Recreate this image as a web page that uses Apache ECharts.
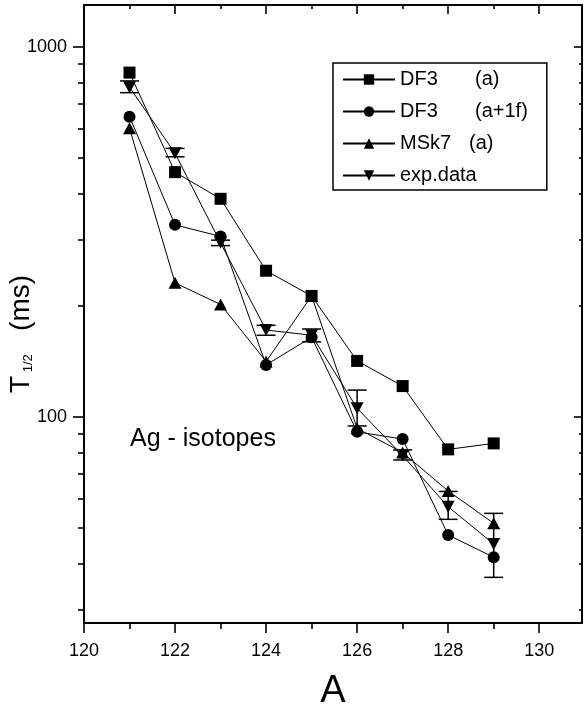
<!DOCTYPE html>
<html>
<head>
<meta charset="utf-8">
<script src="https://cdn.jsdelivr.net/npm/echarts@6/dist/echarts.min.js"></script>
<style>html,body{margin:0;padding:0;background:#fff;}#c{width:584px;height:706px;}</style>
</head>
<body>
<div id="c"></div>
<script>
// ---- data ----
const massNumbers = [121, 122, 123, 124, 125, 126, 127, 128, 129];
const df3a      = [851, 458, 388, 248, 212, 141.5, 121, 81.6, 84.7];
const df3a1f    = [647, 330, 307, 138, 164, 91, 87, 47.9, 41.7];
const msk7a     = [602, 230, 201, 141, 212, 93, 80, 63, 51.5];
const expData   = [777, 515, 295, 171.5, 166, 105.4, 78.5, 57.1, 45.3];
const expLow    = [751, 504, 290, 166, 159.3, 94.4, 76.4, 52.8, 36.8];
const expHigh   = [808, 531, 300, 176.6, 172.6, 118, 81.3, 62.8, 54.8];
const xMajorTicks = [120, 122, 124, 126, 128, 130];
const xMinorTicks = [121, 123, 125, 127, 129];
const yMajorTicks = [100, 1000];
const yMinorTicks = [30, 40, 50, 60, 70, 80, 90, 200, 300, 400, 500, 600, 700, 800, 900];
const seriesNames = ['DF3 (a)', 'DF3 (a+1f)', 'MSk7 (a)', 'exp.data'];

const FONT = "'Liberation Sans', Arial, Helvetica, sans-serif";
const X_MIN = 120, X_MAX = 130.94, Y_MIN = 27.7, Y_MAX = 1296;

function pairs(vals) { return massNumbers.map((a, i) => [a, vals[i]]); }

function xAxisDef(pos, ticks, len, inside, withLabels, withLine) {
  return {
    type: 'value', position: pos, min: X_MIN, max: X_MAX,
    splitLine: { show: false },
    axisLine: { show: withLine, onZero: false, lineStyle: { color: '#000', width: 2 } },
    axisTick: { show: true, inside: inside, length: len, customValues: ticks, lineStyle: { color: '#000', width: 1.6 } },
    axisLabel: withLabels ? { show: true, customValues: xMajorTicks, margin: 19, fontSize: 18, color: '#000', fontFamily: FONT } : { show: false },
    name: (withLabels && pos === 'bottom') ? 'A' : '',
    nameLocation: 'middle', nameGap: 50, nameMoveOverlap: false,
    nameTextStyle: { fontSize: 38, color: '#000', fontFamily: FONT }
  };
}
function yAxisDef(pos, ticks, len, inside, withLabels, withLine) {
  return {
    type: 'log', logBase: 10, position: pos, min: Y_MIN, max: Y_MAX,
    splitLine: { show: false }, minorTick: { show: false },
    axisLine: { show: withLine, onZero: false, lineStyle: { color: '#000', width: 2 } },
    axisTick: { show: true, inside: inside, length: len, customValues: ticks, lineStyle: { color: '#000', width: 1.6 } },
    axisLabel: withLabels ? { show: true, customValues: yMajorTicks, margin: 17, fontSize: 18, color: '#000', fontFamily: FONT,
      formatter: v => String(Math.round(v)) } : { show: false },
    name: (withLabels && pos === 'left') ? '{t|T}{s| 1/2}{t|   (ms)}' : '',
    nameLocation: 'middle', nameRotate: 90, nameGap: 49, nameMoveOverlap: false,
    nameTextStyle: { color: '#000', fontFamily: FONT, padding: [0, 40, 0, 0],
      rich: { t: { fontSize: 28, fontFamily: FONT, color: '#000' },
              s: { fontSize: 13, fontFamily: FONT, color: '#000', verticalAlign: 'bottom' } } }
  };
}

const lineCommon = {
  type: 'line', xAxisIndex: 0, yAxisIndex: 0,
  lineStyle: { color: '#000', width: 1 },
  itemStyle: { color: '#000' },
  showSymbol: true, animation: false, z: 3
};

const option = {
  animation: false,
  backgroundColor: '#fff',
  grid: { left: 84, right: 2, top: 5, bottom: 83, containLabel: false, outerBoundsMode: 'none' },
  xAxis: [
    xAxisDef('bottom', xMajorTicks, 10, false, true, true),
    xAxisDef('bottom', xMinorTicks, 6, false, false, false),
    xAxisDef('top', xMajorTicks, 9, true, false, true),
    xAxisDef('top', xMinorTicks, 4, true, false, false)
  ],
  yAxis: [
    yAxisDef('left', yMajorTicks, 11, false, true, true),
    yAxisDef('left', yMinorTicks, 6, false, false, false),
    yAxisDef('right', yMajorTicks, 8, true, false, true),
    yAxisDef('right', yMinorTicks, 3, true, false, false)
  ],
  title: {
    text: 'Ag - isotopes', left: 125, top: 422,
    textStyle: { fontSize: 25, fontWeight: 'normal', color: '#000', fontFamily: FONT }
  },
  legend: {
    orient: 'vertical', left: 333, top: 63,
    padding: [5, 19, 3, 9], itemGap: 9,
    itemWidth: 52, itemHeight: 13,
    borderColor: '#000', borderWidth: 1.5, backgroundColor: '#fff',
    data: seriesNames,
    formatter: function (name) {
      if (name === 'DF3 (a)') return '{n|DF3}{p|(a)}';
      if (name === 'DF3 (a+1f)') return '{n|DF3}{p|(a+1f)}';
      if (name === 'MSk7 (a)') return '{m|MSk7}{p|(a)}';
      return '{p|exp.data}';
    },
    textStyle: {
      fontSize: 20, color: '#000', fontFamily: FONT, lineHeight: 23,
      rich: {
        n: { width: 75, fontSize: 20, fontFamily: FONT, color: '#000', lineHeight: 23 },
        m: { width: 69, fontSize: 20, fontFamily: FONT, color: '#000', lineHeight: 23 },
        p: { fontSize: 20, fontFamily: FONT, color: '#000', lineHeight: 23 }
      }
    }
  },
  series: [
    {
      type: 'custom', name: 'errors', xAxisIndex: 0, yAxisIndex: 0, z: 2,
      data: massNumbers.map((a, i) => [a, expLow[i], expHigh[i]]),
      renderItem: function (params, api) {
        const lo = api.coord([api.value(0), api.value(1)]);
        const hi = api.coord([api.value(0), api.value(2)]);
        const hw = 9.5;
        const st = { stroke: '#000', lineWidth: 1.5 };
        return { type: 'group', children: [
          { type: 'line', shape: { x1: lo[0], y1: lo[1], x2: hi[0], y2: hi[1] }, style: st },
          { type: 'line', shape: { x1: lo[0] - hw, y1: lo[1], x2: lo[0] + hw, y2: lo[1] }, style: st },
          { type: 'line', shape: { x1: hi[0] - hw, y1: hi[1], x2: hi[0] + hw, y2: hi[1] }, style: st }
        ]};
      }
    },
    Object.assign({}, lineCommon, { name: seriesNames[0], data: pairs(df3a), symbol: 'rect', symbolSize: 12 }),
    Object.assign({}, lineCommon, { name: seriesNames[1], data: pairs(df3a1f), symbol: 'circle', symbolSize: 12 }),
    Object.assign({}, lineCommon, { name: seriesNames[2], data: pairs(msk7a), symbol: 'triangle', symbolSize: [13, 12] }),
    Object.assign({}, lineCommon, { name: seriesNames[3], data: pairs(expData), symbol: 'triangle', symbolSize: [13, 12], symbolRotate: 180 })
  ]
};

const chart = echarts.init(document.getElementById('c'), null, { renderer: 'canvas' });
chart.setOption(option);
</script>
</body>
</html>
